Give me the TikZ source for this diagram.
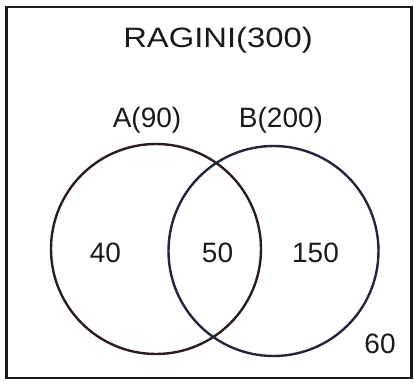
\documentclass[tikz,border=0pt]{standalone}
\usepackage{fontspec}
\setmainfont{Liberation Sans}
\usepackage{graphicx}
\definecolor{setA}{HTML}{2B1D1D}
\definecolor{setB}{HTML}{25253D}
\definecolor{ink}{HTML}{1A1A1A}
\begin{document}
\begin{tikzpicture} [x=1pt,y=-1pt,-]
\tikzstyle{txt}=[anchor=base,inner sep=0pt,text=ink,font=\fontsize{28}{32}\selectfont]
\tikzstyle{set}=[circle,draw,line width=2.4pt,minimum size=210pt,inner sep=0pt]
\useasboundingbox (0,0) rectangle (414,385);
\draw[line width=2.6pt,ink] (6.5,7) rectangle (411.5,378);
\node[txt] (title) at (218,48) {\scalebox{1.17}[1]{RAGINI(300)}};
% the two sets
\node[set,setA] (A) at (156,249) {};
\node[set,setB] (B) at (273.5,251) {};
\node[txt] (la) at (147,127) {A(90)};
\node[txt] (lb) at (281,127) {B(200)};
% counts
\node[txt] (onlyA) at (105.5,262) {40};
\node[txt] (both) at (217.5,262) {50};
\node[txt] (onlyB) at (315.5,262) {150};
\node[txt] (none) at (380,353) {60};
\end{tikzpicture}
\end{document}
